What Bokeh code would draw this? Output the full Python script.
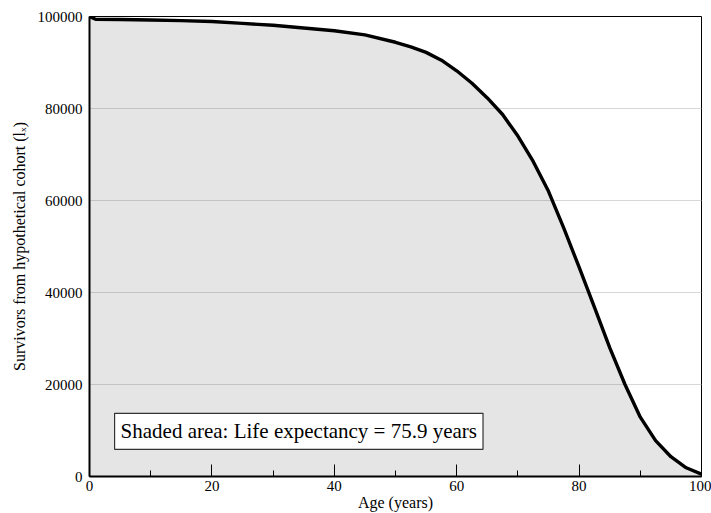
from bokeh.plotting import figure
from bokeh.models import Range1d, FixedTicker, NumeralTickFormatter, Label
from bokeh.embed import file_html
from bokeh.resources import INLINE

ages = [0, 1, 5, 10, 15, 20, 25, 30, 35, 40, 45, 50, 52.5, 55, 57.5, 60, 62.5, 65, 67.5,
        70, 72.5, 75, 77.5, 80, 82.5, 85, 87.5, 90, 92.5, 95, 97.5, 100]
survivors = [100000, 99400, 99350, 99250, 99100, 98900, 98500, 98100, 97500, 96900,
             96000, 94400, 93400, 92200, 90500, 88200, 85500, 82300, 78700, 74000, 68500,
             62000, 54000, 45500, 36800, 28000, 20000, 12900, 7800, 4300, 1900, 500]
life_expectancy = 75.9
x_ticks = [0, 20, 40, 60, 80, 100]
x_minor = [10, 30, 50, 70, 90]
y_ticks = [0, 20000, 40000, 60000, 80000, 100000]
grid_ticks = [20000, 40000, 60000, 80000]

FONT = "Liberation Serif"

p = figure(width=711, height=513, output_backend="svg", toolbar_location=None,
           x_range=Range1d(0, 100), y_range=Range1d(0, 100000),
           min_border_left=89, min_border_right=10, min_border_top=16, min_border_bottom=37)
p.background_fill_color = "white"
p.border_fill_color = "white"
p.outline_line_color = "black"
p.outline_line_width = 1

p.varea(x=ages, y1=[0] * len(ages), y2=survivors, fill_color="black", fill_alpha=0.1)
p.line(x=ages, y=survivors, line_color="black", line_width=3.4, line_join="round")

p.xgrid.visible = False
p.ygrid.ticker = FixedTicker(ticks=grid_ticks)
p.ygrid.grid_line_color = "#d8d8d8"
p.ygrid.grid_line_width = 1

xa = p.xaxis[0]
xa.ticker = FixedTicker(ticks=x_ticks, minor_ticks=x_minor)
xa.axis_label = "Age (years)"
xa.axis_line_color = "black"
xa.axis_line_width = 2
xa.major_tick_in = 12
xa.major_tick_out = 0
xa.minor_tick_in = 6
xa.minor_tick_out = 0
xa.major_tick_line_color = "black"
xa.minor_tick_line_color = "black"
xa.major_label_standoff = 4
xa.axis_label_standoff = 0

ya = p.yaxis[0]
ya.ticker = FixedTicker(ticks=y_ticks)
ya.formatter = NumeralTickFormatter(format="0")
ya.axis_label = "Survivors from hypothetical cohort (lₓ)"
ya.axis_line_color = "black"
ya.axis_line_width = 2
ya.major_tick_in = 0
ya.major_tick_out = 0
ya.minor_tick_in = 0
ya.minor_tick_out = 0
ya.major_label_standoff = 7
ya.axis_label_standoff = 7

for ax in (xa, ya):
    ax.major_label_text_font = FONT
    ax.major_label_text_font_size = "15px"
    ax.major_label_text_color = "black"
    ax.axis_label_text_font = FONT
    ax.axis_label_text_font_size = "16px"
    ax.axis_label_text_font_style = "normal"
    ax.axis_label_text_color = "black"

label = Label(x=4.1, y=5900, text=f"Shaded area: Life expectancy = {life_expectancy} years",
              text_font=FONT, text_font_size="21px", text_color="black",
              text_baseline="bottom", text_align="left",
              background_fill_color="white", border_line_color="#333333", border_line_width=1.2,
              padding=6)
p.add_layout(label)

open("out.html", "w").write(file_html(p, INLINE))
